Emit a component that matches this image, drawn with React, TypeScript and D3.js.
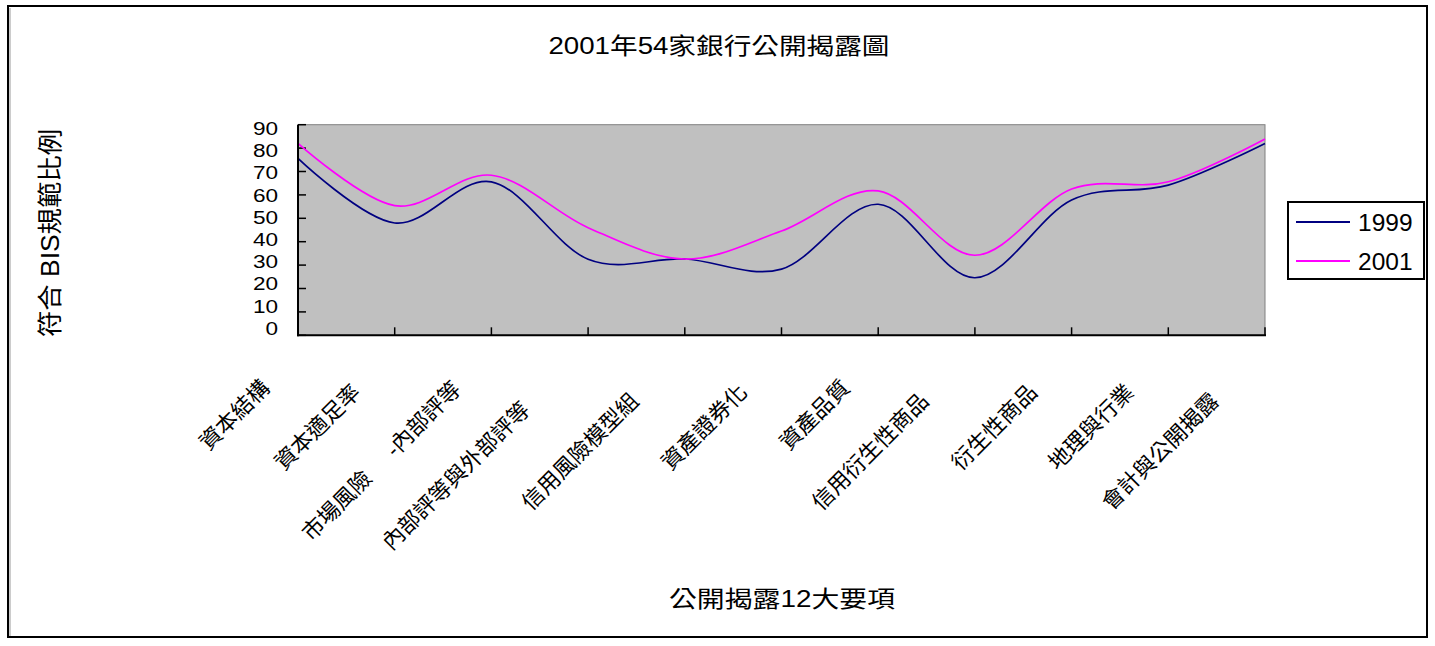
import React from "react";
import * as d3 from "d3";

const categories = [
  "資本結構",
  "資本適足率",
  "市場風險     -內部評等",
  "內部評等與外部評等",
  "信用風險模型組",
  "資產證券化",
  "資產品質",
  "信用衍生性商品",
  "衍生性商品",
  "地理與行業",
  "會計與公開揭露",
];
const series1999 = [75.6, 48, 65.6, 32.5, 32.6, 28.3, 56, 24.6, 57.8, 64.2, 82];
const series2001 = [82, 55.4, 68.4, 46, 32.6, 44.6, 61.7, 34.2, 62.5, 65.6, 83.9];
const yTicks = [0, 10, 20, 30, 40, 50, 60, 70, 80, 90];
const seriesNames = ["1999", "2001"];
const seriesColors = ["#000080", "#FF00FF"];

const FONT = "'Liberation Sans', Arial, 'Noto Sans CJK TC', sans-serif";

export default function App() {
  const W = 1435, H = 646;
  const left = 298, right = 1265, top = 124.7, bottom = 335.3;
  const x = d3.scalePoint<string>().domain(categories).range([left, right]);
  const y = d3.scaleLinear().domain([0, 90]).range([bottom, top]);
  const yLab = d3.scaleLinear().domain([0, 90]).range([328, 128.3]);
  const line = d3
    .line<number>()
    .x((_, i) => x(categories[i]) as number)
    .y((d) => y(d))
    .curve(d3.curveCardinal.tension(0));
  const allSeries = [series1999, series2001];
  const fs = 22;
  const effLen = (s: string) => {
    const parts = s.trim().split(/\s+/);
    const last = parts[parts.length - 1];
    let len = 0;
    for (const ch of last) {
      if (/[\u3000-\u9fff\uff00-\uffef]/.test(ch)) len += fs;
      else if (ch === "-") len += 0.333 * fs;
      else len += 0.556 * fs;
    }
    return len;
  };

  return (
    <svg
      width={W}
      height={H}
      style={{ position: "absolute", left: 0, top: 0, background: "#fff" }}
      fontFamily={FONT}
    >
      <rect x={8} y={6} width={1419} height={631} fill="#fff" stroke="#000" strokeWidth={2} />
      <line x1={10} y1={8} x2={10} y2={636} stroke="#999" strokeWidth={1} />
      {/* title */}
      <text x={719} y={54} fontSize={23} textAnchor="middle" textLength={341} lengthAdjust="spacingAndGlyphs">
        2001年54家銀行公開揭露圖
      </text>
      {/* plot area */}
      <rect x={left} y={top} width={right - left} height={bottom - top} fill="#C0C0C0" stroke="#808080" strokeWidth={1} />
      {/* y ticks */}
      {yTicks.map((t) => (
        <g key={t}>
          <line x1={left} x2={left + 8} y1={y(t)} y2={y(t)} stroke="#000" strokeWidth={1.5} />
          <text
            transform={`translate(278,${yLab(t) + 6.7}) scale(1.2,1)`}
            fontSize={18.8}
            textAnchor="end"
          >
            {t}
          </text>
        </g>
      ))}
      {/* x ticks */}
      {categories.map((c) => (
        <line key={c} x1={x(c)} x2={x(c)} y1={bottom} y2={bottom - 8} stroke="#000" strokeWidth={1.5} />
      ))}
      {/* series lines */}
      {allSeries.map((s, i) => (
        <path key={i} d={line(s) || ""} fill="none" stroke={seriesColors[i]} strokeWidth={1.7} />
      ))}
      {/* axes */}
      <line x1={left} x2={left} y1={top} y2={bottom + 1} stroke="#000" strokeWidth={2} />
      <line x1={left - 1} x2={right + 1} y1={bottom} y2={bottom} stroke="#000" strokeWidth={2} />
      {/* category labels */}
      {categories.map((c) => {
        const L = effLen(c) - 4 * fs;
        const ax = (x(c) as number) - 27 - 0.27 * L;
        const ay = bottom + 54 + 0.2 * L;
        return (
          <text
            key={c}
            transform={`translate(${ax},${ay}) rotate(-45)`}
            fontSize={fs}
            textAnchor="end"
            style={{ whiteSpace: "pre" }}
          >
            {c}
          </text>
        );
      })}
      {/* axis titles */}
      <text x={782} y={607} fontSize={23} textAnchor="middle" textLength={226} lengthAdjust="spacingAndGlyphs">
        公開揭露12大要項
      </text>
      <text
        transform="translate(59,233) rotate(-90)"
        fontSize={25}
        textAnchor="middle"
        textLength={208}
        lengthAdjust="spacingAndGlyphs"
      >
        符合 BIS規範比例
      </text>
      {/* legend */}
      <rect x={1288} y={202} width={136} height={77} fill="#fff" stroke="#000" strokeWidth={2} />
      {seriesNames.map((n, i) => (
        <g key={n}>
          <line x1={1296} x2={1350} y1={222 + i * 39} y2={222 + i * 39} stroke={seriesColors[i]} strokeWidth={2} />
          <text x={1358} y={231 + i * 39} fontSize={24.5}>
            {n}
          </text>
        </g>
      ))}
    </svg>
  );
}
